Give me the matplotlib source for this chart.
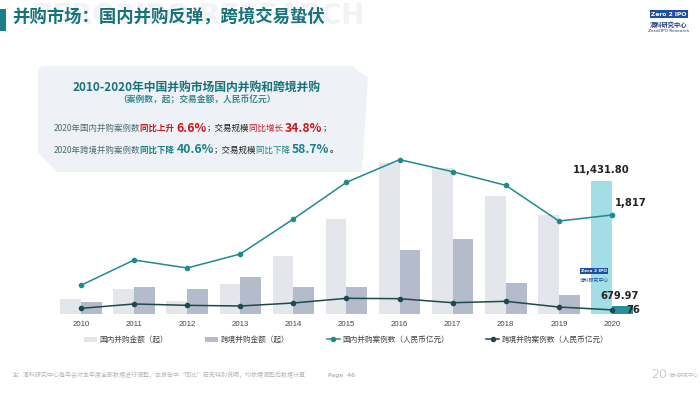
import matplotlib
matplotlib.use("Agg")
import matplotlib.pyplot as plt
from matplotlib.patches import Polygon, Patch, Rectangle
from matplotlib.lines import Line2D
import numpy as np

plt.rcParams['font.family'] = ['Noto Sans CJK SC', 'DejaVu Sans']

# data
years = ["2010", "2011", "2012", "2013", "2014", "2015", "2016", "2017", "2018", "2019", "2020"]
domestic_amount = [1290, 2120, 1090, 2550, 5010, 8170, 12990, 12530, 10090, 8481, 11431.80]
cross_amount = [1030, 2350, 2120, 3180, 2320, 2320, 5530, 6450, 2640, 1646, 679.97]
domestic_cases = [527, 991, 844, 1101, 1743, 2417, 2832, 2611, 2361, 1705, 1817]
cross_cases = [104, 184, 159, 147, 202, 288, 281, 207, 233, 128, 76]
legend_labels = ["国内并购金额（起）", "跨境并购金额（起）", "国内并购案例数（人民币亿元）", "跨境并购案例数（人民币亿元）"]

W, H = 700, 394
fig = plt.figure(figsize=(7, 3.94), dpi=100)
fig.patch.set_facecolor("white")

def fx(x):
    return x / W

def fy(y):
    return 1 - y / H

teal = "#1a7f86"
red = "#c8161d"

# page header (faint watermark behind the title)
fig.text(fx(364), fy(16), "ZERO2IPO RESEARCH", fontsize=20, fontweight="bold",
         color="#f1f3f6", ha="right", va="center", family="DejaVu Sans", zorder=0)
fig.patches.append(Rectangle((0, fy(31)), fx(6), fy(9) - fy(31), transform=fig.transFigure,
                             facecolor=teal, edgecolor="none"))
fig.text(fx(12), fy(17), "并购市场：国内并购反弹，跨境交易蛰伏", fontsize=12.5, fontweight="bold",
         color="#17727a", ha="left", va="center", zorder=2)

# logo top right
fig.text(fx(669), fy(14), "Zero 2 IPO", fontsize=4.3, fontweight="bold", color="white",
         ha="center", va="center", family="DejaVu Sans",
         bbox=dict(boxstyle="square,pad=0.25", facecolor="#1f4fa0", edgecolor="none"))
fig.text(fx(669), fy(25), "清科研究中心", fontsize=4.5, fontweight="bold", color="#1f3f80",
         ha="center", va="center")
fig.text(fx(669), fy(31), "Zero2IPO Research", fontsize=3.2, color="#1f3f80",
         ha="center", va="center", family="DejaVu Sans")

# info box
box_pts = [(38, 70), (42, 66), (352, 66), (368, 78), (362, 172), (57, 172), (38, 153)]
fig.patches.append(Polygon([(fx(x), fy(y)) for x, y in box_pts], closed=True,
                           transform=fig.transFigure, facecolor="#eef2f6", edgecolor="none", zorder=0))

fig.text(fx(197), fy(87), "2010-2020年中国并购市场国内并购和跨境并购", fontsize=8.5, fontweight="bold",
         color="#17727a", ha="center", va="center")
fig.text(fx(197), fy(100), "（案例数，起；交易金额，人民币亿元）", fontsize=6.3, fontweight="bold",
         color="#3a8a90", ha="center", va="center")

renderer = fig.canvas.get_renderer()

def rich_line(x, y, parts):
    for txt, color, size, weight in parts:
        t = fig.text(fx(x), fy(y), txt, fontsize=size, fontweight=weight, color=color,
                     ha="left", va="center")
        bb = t.get_window_extent(renderer)
        x += bb.width

gray_txt = "#4a6b73"
black_txt = "#222222"
rich_line(54, 128, [
    ("2020年国内并购案例数", gray_txt, 6.1, "normal"),
    ("同比上升 ", red, 6.1, "bold"),
    ("6.6%", red, 8.8, "bold"),
    ("；交易规模", black_txt, 6.1, "normal"),
    ("同比增长 ", red, 6.1, "normal"),
    ("34.8%", red, 8.8, "bold"),
    ("；", black_txt, 6.1, "normal"),
])
rich_line(54, 150, [
    ("2020年跨境并购案例数", gray_txt, 6.1, "normal"),
    ("同比下降 ", teal, 6.1, "bold"),
    ("40.6%", teal, 8.8, "bold"),
    ("；交易规模", black_txt, 6.1, "normal"),
    ("同比下降 ", teal, 6.1, "normal"),
    ("58.7%", teal, 8.8, "bold"),
    ("。", black_txt, 6.1, "bold"),
])

# chart axes
ax = fig.add_axes([fx(40), fy(314), fx(660) - fx(40), fy(140) - fy(314)], zorder=1)
ax.patch.set_alpha(0)
x = np.arange(len(years))
bw = 0.39
dom_colors = ["#e3e6ea"] * (len(years) - 1) + ["#a3dde6"]
cross_colors = ["#b4bccc"] * (len(years) - 1) + ["#2a8e97"]
ax.bar(x - bw / 2, domestic_amount, bw, color=dom_colors, zorder=1)
ax.bar(x + bw / 2, cross_amount, bw, color=cross_colors, zorder=1)
ax.set_xlim(-0.772, 10.904)
ax.set_ylim(0, 174 * 85.76)
ax.set_xticks(x)
ax.set_xticklabels(years, fontsize=5.6, color="#444444", family=["Liberation Sans", "DejaVu Sans"])
ax.tick_params(axis="x", length=0, pad=5)
ax.set_yticks([])
for s in ax.spines.values():
    s.set_visible(False)

ax2 = ax.twinx()
ax2.set_ylim(0, 174 * 18.35)
ax2.plot(x, domestic_cases, color="#1f8a90", lw=1.1, marker="o", ms=3, zorder=3)
ax2.plot(x, cross_cases, color="#1c4a4d", lw=1.1, marker="o", ms=3, zorder=3)
ax2.set_yticks([])
for s in ax2.spines.values():
    s.set_visible(False)

lab_font = dict(fontsize=8, fontweight="bold", color="#222222", fontstretch="condensed",
                family=["Liberation Sans Narrow", "DejaVu Sans"])
ax.annotate("11,431.80", (x[-1] - bw / 2, domestic_amount[-1]), xytext=(0, 4),
            textcoords="offset points", ha="center", va="bottom", **lab_font)
ax2.annotate("1,817", (x[-1], domestic_cases[-1]), xytext=(2, 5),
             textcoords="offset points", ha="left", va="bottom", **lab_font)
ax.annotate("679.97", (x[-1] + bw / 2, cross_amount[-1]), xytext=(-2, 4),
            textcoords="offset points", ha="center", va="bottom", **lab_font)
ax2.annotate("76", (x[-1], cross_cases[-1]), xytext=(10, 0),
             textcoords="offset points", ha="left", va="center", **lab_font)

# small logo inside chart
fig.text(fx(594), fy(271), "Zero 2 IPO", fontsize=3.2, fontweight="bold", color="white",
         ha="center", va="center", family="DejaVu Sans",
         bbox=dict(boxstyle="square,pad=0.2", facecolor="#1f4fa0", edgecolor="none"), zorder=5)
fig.text(fx(594), fy(280), "清科研究中心", fontsize=3.5, color="#1f4fa0",
         ha="center", va="center", zorder=5)

# legend
handles = [
    Patch(facecolor="#e3e6ea", edgecolor="none"),
    Patch(facecolor="#b4bccc", edgecolor="none"),
    Line2D([], [], color="#1f8a90", lw=1.1, marker="o", ms=3),
    Line2D([], [], color="#1c4a4d", lw=1.1, marker="o", ms=3),
]
fig.legend(handles, legend_labels, loc="center", bbox_to_anchor=(fx(346), fy(340)), ncol=4,
           frameon=False, fontsize=5.5, handlelength=1.7, handleheight=0.7, handletextpad=0.3,
           columnspacing=4.9, labelcolor="#444444")

# footer
fig.text(fx(12), fy(375), "注：清科研究中心每年会对本年度全部数据进行调整，本报告中\u201c同比\u201d若无特别说明，均依据调整后数据计算",
         fontsize=4.3, color="#b5b5b5", ha="left", va="center")
fig.text(fx(328), fy(375), "Page  46", fontsize=4.5, color="#999999", ha="left", va="center",
         family="DejaVu Sans")
fig.text(fx(667), fy(375), "20", fontsize=9, color="#d0d0d0", ha="right", va="center",
         family="DejaVu Sans")
fig.text(fx(669), fy(375), "清科研究中心", fontsize=3.6, color="#bbbbbb", ha="left", va="center")

fig.savefig("out.png", dpi=100)
